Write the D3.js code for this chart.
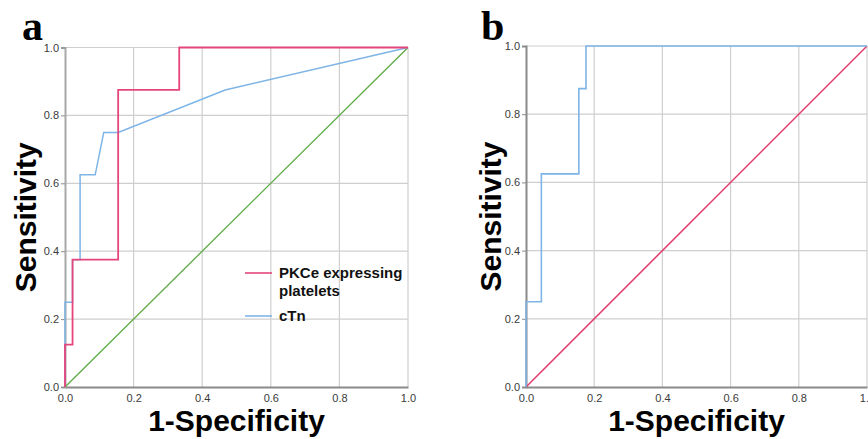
<!DOCTYPE html>
<html>
<head>
<meta charset="utf-8">
<script src="https://cdn.jsdelivr.net/npm/d3@7"></script>
<style>
  body { margin: 0; background: #fff; }
  svg { display: block; }
  .tick text { font-family: "Liberation Sans", Arial, sans-serif; font-size: 11px; fill: #3a3a3a; }
</style>
</head>
<body>
<div id="chart"></div>
<script>
const tickValues = [0, 0.2, 0.4, 0.6, 0.8, 1.0];

// panel a
const pkceFpr = [0, 0, 0.022, 0.022, 0.155, 0.155, 0.333, 0.333, 1.0];
const pkceTpr = [0, 0.125, 0.125, 0.375, 0.375, 0.875, 0.875, 1.0, 1.0];
const ctnAFpr = [0, 0, 0.022, 0.022, 0.044, 0.044, 0.088, 0.113, 0.155, 0.467, 1.0];
const ctnATpr = [0, 0.25, 0.25, 0.375, 0.375, 0.625, 0.625, 0.75, 0.75, 0.875, 1.0];

// panel b
const ctnBFpr = [0, 0, 0.045, 0.045, 0.155, 0.155, 0.176, 0.176, 1.0];
const ctnBTpr = [0, 0.25, 0.25, 0.625, 0.625, 0.875, 0.875, 1.0, 1.0];

const refLine = [0, 1];
const legendLabels = [["PKCe expressing", "platelets"], ["cTn"]];

const W = 868, H = 439;

const svg = d3.select("#chart")
  .append("svg")
  .attr("width", W)
  .attr("height", H);

const zip = (xs, ys) => xs.map((v, i) => ({ fpr: v, tpr: ys[i] }));

function panel(opts) {
  const x = d3.scaleLinear().domain([0, 1]).range([opts.x0, opts.x1]);
  const y = d3.scaleLinear().domain([0, 1]).range([opts.y0, opts.y1]);
  const g = svg.append("g");

  // grid
  g.append("g")
    .selectAll("line")
    .data(tickValues.slice(1))
    .enter()
    .append("line")
    .attr("x1", d => x(d)).attr("x2", d => x(d))
    .attr("y1", y(0)).attr("y2", y(1))
    .attr("stroke", "#cfcfcf")
    .attr("stroke-width", 1.2);

  g.append("g")
    .selectAll("line")
    .data(tickValues.slice(1))
    .enter()
    .append("line")
    .attr("x1", x(0)).attr("x2", x(1))
    .attr("y1", d => y(d)).attr("y2", d => y(d))
    .attr("stroke", "#cfcfcf")
    .attr("stroke-width", 1.2);

  // axes
  const ax = g.append("g")
    .attr("transform", `translate(0,${y(0)})`)
    .call(d3.axisBottom(x).tickValues(tickValues).tickFormat(d3.format(".1f")).tickSize(0).tickPadding(7));
  ax.select(".domain").attr("stroke", "#8a8a8a").attr("stroke-width", 2.2);

  const ay = g.append("g")
    .attr("transform", `translate(${x(0)},0)`)
    .call(d3.axisLeft(y).tickValues(tickValues).tickFormat(d3.format(".1f")).tickSize(4).tickPadding(2));
  ay.select(".domain").attr("stroke", opts.leftAxis).attr("stroke-width", 2);
  ay.selectAll(".tick line").attr("stroke", "#8a8a8a");

  // titles
  g.append("text")
    .attr("x", (opts.x0 + opts.x1) / 2)
    .attr("y", 431)
    .attr("text-anchor", "middle")
    .style("font-family", "Liberation Sans, Arial, sans-serif")
    .style("font-weight", "bold")
    .style("font-size", "30px")
    .text("1-Specificity");

  g.append("text")
    .attr("transform", `translate(${opts.titleX},${(opts.y0 + opts.y1) / 2}) rotate(-90)`)
    .attr("text-anchor", "middle")
    .style("font-family", "Liberation Sans, Arial, sans-serif")
    .style("font-weight", "bold")
    .style("font-size", "30px")
    .text("Sensitivity");

  g.append("text")
    .attr("x", opts.letterX)
    .attr("y", 40)
    .style("font-family", "Liberation Serif, Times New Roman, serif")
    .style("font-weight", "bold")
    .style("font-size", "42px")
    .text(opts.letter);

  const line = d3.line()
    .x(d => x(d.fpr))
    .y(d => y(d.tpr));

  opts.series.forEach(s => {
    g.append("path")
      .datum(s.values)
      .attr("fill", "none")
      .attr("stroke", s.color)
      .attr("stroke-width", s.width || 1.5)
      .attr("d", line);
  });

  return { g, x, y };
}

const pa = panel({
  x0: 65, x1: 408, y0: 387, y1: 47.5,
  titleX: 36, letterX: 22, letter: "a", leftAxis: "#a8a8a8",
  series: [
    { values: zip(refLine, refLine), color: "#5daa45", width: 1.3 },
    { values: zip(ctnAFpr, ctnATpr), color: "#7eb4e6", width: 1.5 },
    { values: zip(pkceFpr, pkceTpr), color: "#e6457c", width: 1.8 }
  ]
});

panel({
  x0: 526, x1: 867, y0: 387, y1: 46,
  titleX: 501, letterX: 481, letter: "b", leftAxis: "#8a8a8a",
  series: [
    { values: zip(refLine, refLine), color: "#e23a69", width: 1.5 },
    { values: zip(ctnBFpr, ctnBTpr), color: "#7eb4e6", width: 1.6 }
  ]
});

// legend (panel a)
const legendColors = ["#e6457c", "#7eb4e6"];
const legend = pa.g.selectAll(".legend")
  .data(legendLabels)
  .enter()
  .append("g")
  .attr("class", "legend")
  .attr("transform", (d, i) => `translate(245,${i === 0 ? 273 : 316})`);

legend.append("line")
  .attr("x1", 0).attr("x2", 27)
  .attr("y1", 0).attr("y2", 0)
  .attr("stroke", (d, i) => legendColors[i])
  .attr("stroke-width", 1.6);

legend.append("text")
  .attr("x", 34)
  .attr("y", 5)
  .style("font-family", "Liberation Sans, Arial, sans-serif")
  .style("font-weight", "bold")
  .style("font-size", "15px")
  .style("fill", "#111")
  .selectAll("tspan")
  .data(d => d)
  .enter()
  .append("tspan")
  .attr("x", 34)
  .attr("dy", (d, i) => i === 0 ? 0 : 18)
  .text(d => d);
</script>
</body>
</html>
